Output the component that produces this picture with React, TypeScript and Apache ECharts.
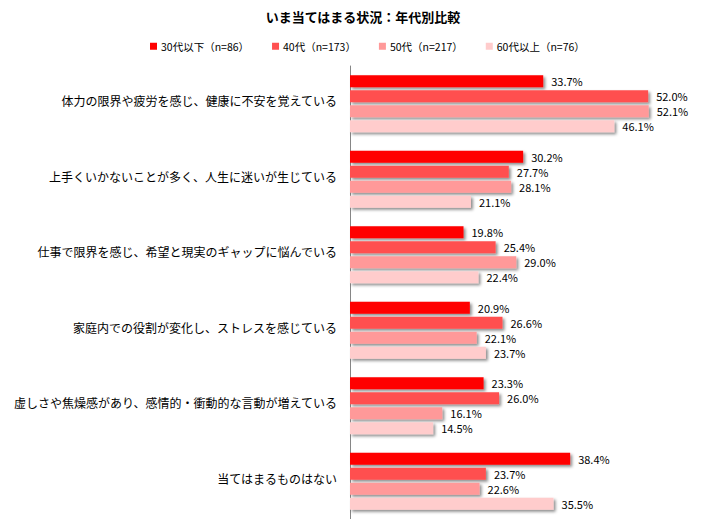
import React, { useEffect, useRef } from "react";
import * as echarts from "echarts";

const categories = [
  "体力の限界や疲労を感じ、健康に不安を覚えている",
  "上手くいかないことが多く、人生に迷いが生じている",
  "仕事で限界を感じ、希望と現実のギャップに悩んでいる",
  "家庭内での役割が変化し、ストレスを感じている",
  "虚しさや焦燥感があり、感情的・衝動的な言動が増えている",
  "当てはまるものはない",
];

const seriesNames = ["30代以下（n=86）", "40代（n=173）", "50代（n=217）", "60代以上（n=76）"];

const age30 = [33.7, 30.2, 19.8, 20.9, 23.3, 38.4];
const age40 = [52.0, 27.7, 25.4, 26.6, 26.0, 23.7];
const age50 = [52.1, 28.1, 29.0, 22.1, 16.1, 22.6];
const age60 = [46.1, 21.1, 22.4, 23.7, 14.5, 35.5];

const colors = ["#FF0000", "#FF5050", "#FF9999", "#FFCCCC"];

const FONT = '"Noto Sans CJK JP", "Noto Sans", sans-serif';

export default function App() {
  const ref = useRef<HTMLDivElement>(null);

  useEffect(() => {
    if (!ref.current) return;
    const chart = echarts.init(ref.current, undefined, { renderer: "svg" });
    const values = [age30, age40, age50, age60];
    chart.setOption({
      animation: false,
      textStyle: { fontFamily: FONT },
      title: {
        text: "いま当てはまる状況：年代別比較",
        left: 358,
        textAlign: "center",
        top: 5,
        textStyle: { fontSize: 13, fontWeight: "bold", color: "#000", fontFamily: FONT },
      },
      legend: {
        top: 36,
        left: 145,
        itemWidth: 7,
        itemHeight: 7,
        itemGap: 23,
        icon: "rect",
        textStyle: { fontSize: 10.5, color: "#000", fontFamily: FONT, padding: [0, 0, 0, -1] },
        data: seriesNames,
      },
      grid: { left: 350, right: 8, top: 66, bottom: 8 },
      xAxis: {
        type: "value",
        min: 0,
        max: 60,
        show: false,
      },
      yAxis: {
        type: "category",
        inverse: true,
        data: categories,
        axisLine: { show: true, lineStyle: { color: "#868686", width: 1 } },
        axisTick: { show: false },
        axisLabel: {
          fontSize: 12,
          color: "#000",
          margin: 13,
          fontFamily: FONT,
          verticalAlign: "bottom",
          lineHeight: 6,
        },
      },
      series: seriesNames.map((name, i) => ({
        name,
        type: "bar",
        data: values[i],
        barGap: "25%",
        barCategoryGap: "24.5%",
        itemStyle: {
          color: colors[i],
          shadowColor: "rgba(0,0,0,0.45)",
          shadowBlur: 3,
          shadowOffsetX: 2,
          shadowOffsetY: 2,
        },
        label: {
          show: true,
          position: "right",
          distance: 8,
          fontSize: 11,
          color: "#000",
          fontFamily: FONT,
          formatter: (p: any) => p.value.toFixed(1) + "%",
        },
      })),
    });
    return () => chart.dispose();
  }, []);

  return <div ref={ref} style={{ width: 702, height: 527, margin: -8 }} />;
}
